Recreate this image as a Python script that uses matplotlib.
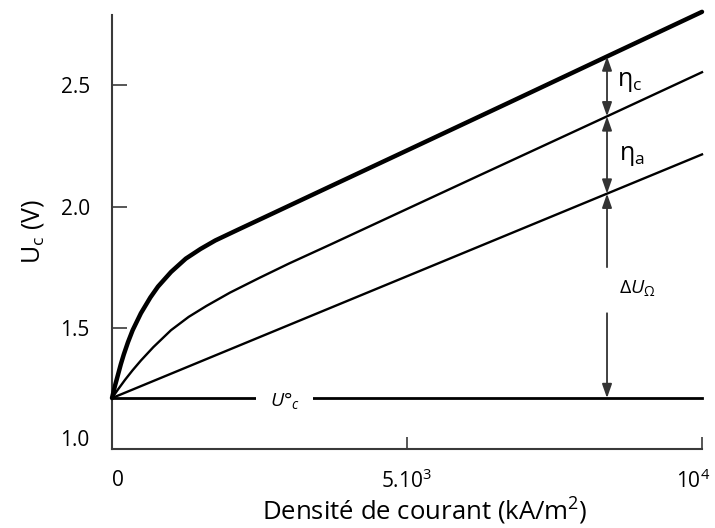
import numpy as np
import matplotlib
matplotlib.use("Agg")
import matplotlib.pyplot as plt
from matplotlib.transforms import ScaledTranslation

# ---------------- data ----------------
j_top = [0, 50, 100, 150, 200, 270, 350, 490, 650, 780, 1000, 1250, 1500, 1750, 2140,
         2710, 3690, 5050, 6750, 8390, 10000]
u_top = [1.21, 1.26, 1.305, 1.35, 1.39, 1.44, 1.49, 1.56, 1.625, 1.67, 1.73, 1.785, 1.825, 1.86, 1.905,
         1.97, 2.082, 2.237, 2.431, 2.619, 2.803]

j_mid = [0, 100, 220, 350, 490, 700, 1000, 1300, 1600, 2000, 2500, 3000, 3700, 5000, 6240, 8390, 10000]
u_mid = [1.21, 1.245, 1.285, 1.325, 1.365, 1.42, 1.49, 1.545, 1.59, 1.645, 1.706, 1.765, 1.843, 1.99,
         2.13, 2.372, 2.554]

j_low = [0, 10000]
u_low = [1.21, 2.215]

j_rev = [0, 10000]
u_rev = [1.21, 1.21]

j_arrow = 8390

x_ticks = [0, 5000, 10000]
x_ticklabels = ['0', '5.10$^3$', '10$^4$']
y_ticks = [1.0, 1.5, 2.0, 2.5]
y_ticklabels = ['1.0', '1.5', '2.0', '2.5']

# ---------------- style ----------------
plt.rcParams['font.family'] = ['Open Sans', 'DejaVu Sans']
plt.rcParams['mathtext.fontset'] = 'custom'
plt.rcParams['mathtext.rm'] = 'Open Sans'
plt.rcParams['mathtext.it'] = 'Open Sans:italic'
plt.rcParams['mathtext.bf'] = 'Open Sans:bold'
plt.rcParams['mathtext.default'] = 'regular'

fig = plt.figure(figsize=(7.15, 5.28), dpi=100)
ax = fig.add_axes([112 / 715, 1 - 449 / 528, 590 / 715, 434 / 528])

ax.set_xlim(0, 10000)
ax.set_ylim(1.0, 2.79)

spine_col = '#3a3a3a'
for s in ['top', 'right']:
    ax.spines[s].set_visible(False)
for s in ['left', 'bottom']:
    ax.spines[s].set_color(spine_col)
    ax.spines[s].set_linewidth(1.5)

# curves
ax.plot(j_top, u_top, color='black', lw=3.2, solid_capstyle='round', solid_joinstyle='round',
        clip_on=False, zorder=3)
ax.plot(j_mid, u_mid, color='black', lw=1.7, solid_joinstyle='round', clip_on=False, zorder=3)
ax.plot(j_low, u_low, color='black', lw=1.7, clip_on=False, zorder=3)
ax.plot(j_rev, u_rev, color='black', lw=2.0, clip_on=False, zorder=3)

# ticks
ax.set_xticks(x_ticks)
ax.set_xticklabels(x_ticklabels, fontsize=15)
ax.set_yticks(y_ticks)
ax.set_yticklabels(y_ticklabels, fontsize=15)
ax.tick_params(axis='y', direction='in', length=11, width=1.2, color=spine_col, pad=16)
ax.tick_params(axis='x', direction='in', length=9, width=1.2, color=spine_col, pad=15)
ax.xaxis.get_major_ticks()[0].tick1line.set_visible(False)
ax.yaxis.get_major_ticks()[0].tick1line.set_visible(False)

# small label offsets as in reference
xl = ax.get_xticklabels()
xl[0].set_transform(xl[0].get_transform() + ScaledTranslation(6 / 100, 0, fig.dpi_scale_trans))
xl[-1].set_transform(xl[-1].get_transform() + ScaledTranslation(-9 / 100, 0, fig.dpi_scale_trans))
yl = ax.get_yticklabels()
yl[0].set_transform(yl[0].get_transform() + ScaledTranslation(0, 11 / 100, fig.dpi_scale_trans))

ax.set_xlabel('Densité de courant (kA/m$^2$)', fontsize=18.5)
ax.xaxis.set_label_coords(0.53, -0.108)
ax.set_ylabel('U$_c$ (V)', fontsize=18)
ax.yaxis.set_label_coords(-0.112, 0.5)

# arrows
a_top = np.interp(j_arrow, j_top, u_top)
a_mid = np.interp(j_arrow, j_mid, u_mid)
a_low = np.interp(j_arrow, j_low, u_low)
a_rev = np.interp(j_arrow, j_rev, u_rev)

arrow_col = '#333333'
def arr(y0, y1, style):
    ax.annotate('', xy=(j_arrow, y1), xytext=(j_arrow, y0),
                arrowprops=dict(arrowstyle=style + ',head_length=0.6,head_width=0.21',
                                color=arrow_col, lw=1.3, shrinkA=0, shrinkB=0,
                                mutation_scale=14),
                annotation_clip=False, zorder=4)

arr(a_mid, a_top, '<|-|>')
arr(a_low, a_mid, '<|-|>')
gap_hi, gap_lo = 1.75, 1.56
arr(gap_hi, a_low, '-|>')
arr(gap_lo, a_rev, '-|>')

# labels
ax.text(8560, 2.515, r'η$_c$', fontsize=18, ha='left', va='center')
ax.text(8590, 2.21, r'η$_a$', fontsize=18, ha='left', va='center')
ax.text(8600, 1.665, r'$\mathit{\Delta U_{\Omega}}$', fontsize=14, ha='left', va='center')
ax.text(2930, 1.20, r'$\mathit{U°_{c}}$', fontsize=14, ha='center', va='center',
        bbox=dict(boxstyle='square,pad=0.7', fc='white', ec='none'), zorder=5)

fig.savefig('out.png', dpi=100)
